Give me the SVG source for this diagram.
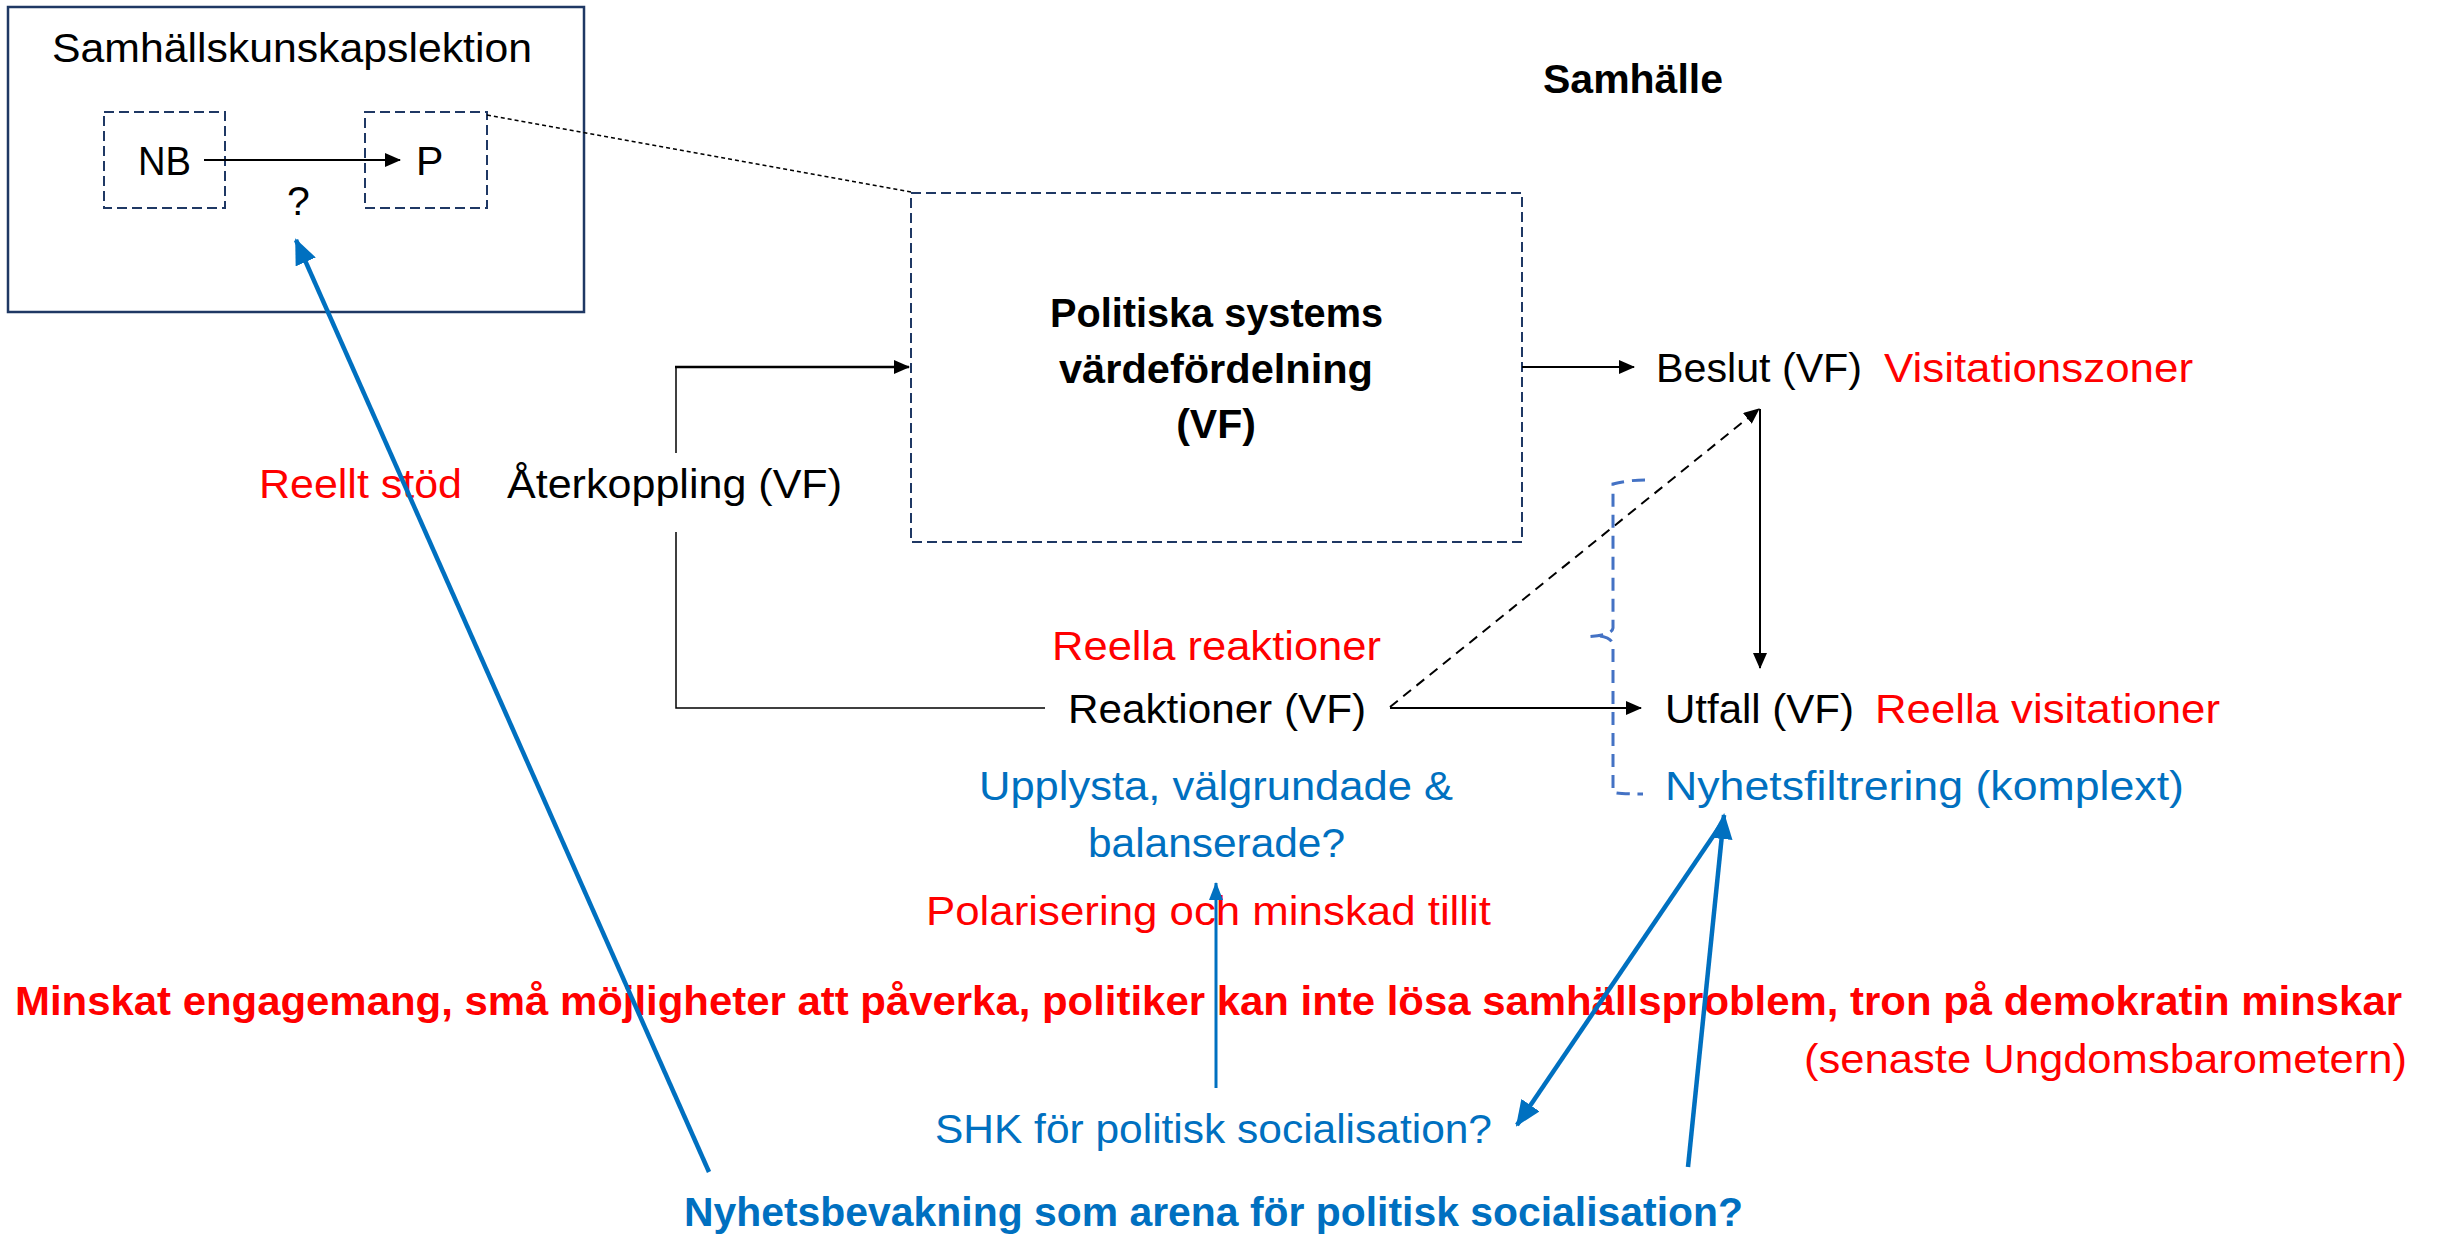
<svg xmlns="http://www.w3.org/2000/svg" width="2438" height="1236" viewBox="0 0 2438 1236">
<style>
text{font-family:"Liberation Sans",Arial,sans-serif;font-size:41px;fill:#000}
.b{font-weight:bold}
.red{fill:#FF0000}
.blue{fill:#0070C0}
.navy{fill:none;stroke:#1F3864}
.ln{fill:none;stroke:#000;stroke-width:2}
.thin{fill:none;stroke:#000;stroke-width:1.5}
.bl{fill:none;stroke:#0070C0;stroke-width:4.5}
</style>
<defs>
<marker id="ab" markerUnits="userSpaceOnUse" markerWidth="16" markerHeight="14" refX="15" refY="7" orient="auto"><path d="M0,0 L16,7 L0,14 z" fill="#000"/></marker>
<marker id="abl" markerUnits="userSpaceOnUse" markerWidth="26" markerHeight="22" refX="24" refY="11" orient="auto"><path d="M0,0 L26,11 L0,22 z" fill="#0070C0"/></marker>
<marker id="abls" markerUnits="userSpaceOnUse" markerWidth="18" markerHeight="14" refX="17" refY="7" orient="auto"><path d="M0,0 L18,7 L0,14 z" fill="#0070C0"/></marker>
</defs>
<rect width="2438" height="1236" fill="#fff"/>

<g id="lesson">
<rect class="navy" x="8" y="7" width="576" height="305" stroke-width="2.5"/>
<text x="52" y="62" font-size="43" textLength="480" lengthAdjust="spacingAndGlyphs">Samhällskunskapslektion</text>
</g>
<g id="nb">
<rect class="navy" x="104" y="112" width="121" height="96" stroke-width="2" stroke-dasharray="10,5"/>
<text x="138" y="175" textLength="53" lengthAdjust="spacingAndGlyphs">NB</text>
</g>
<g id="p">
<rect class="navy" x="365" y="112" width="122" height="96" stroke-width="2" stroke-dasharray="10,5"/>
<text x="416" y="175">P</text>
</g>
<g id="question"><text x="287" y="215">?</text></g>
<g id="samhalle"><text class="b" x="1543" y="93" font-size="42" textLength="180" lengthAdjust="spacingAndGlyphs">Samhälle</text></g>
<g id="politics">
<rect class="navy" x="911" y="193" width="611" height="349" stroke-width="2" stroke-dasharray="10,5"/>
<text class="b" x="1050" y="327" font-size="43" textLength="333" lengthAdjust="spacingAndGlyphs">Politiska systems</text>
<text class="b" x="1059" y="383" font-size="43" textLength="314" lengthAdjust="spacingAndGlyphs">värdefördelning</text>
<text class="b" x="1216" y="438" font-size="43" text-anchor="middle">(VF)</text>
</g>
<g id="beslut">
<text x="1656" y="382" textLength="206" lengthAdjust="spacingAndGlyphs">Beslut (VF)</text>
<text class="red" x="1884" y="382" textLength="309" lengthAdjust="spacingAndGlyphs">Visitationszoner</text>
</g>
<g id="aterkoppling">
<text class="red" x="259" y="498" textLength="203" lengthAdjust="spacingAndGlyphs">Reellt stöd</text>
<text x="507" y="498" textLength="335" lengthAdjust="spacingAndGlyphs">Återkoppling (VF)</text>
</g>
<g id="reaktioner">
<text class="red" x="1052" y="660" textLength="329" lengthAdjust="spacingAndGlyphs">Reella reaktioner</text>
<text x="1068" y="723" textLength="298" lengthAdjust="spacingAndGlyphs">Reaktioner (VF)</text>
<text class="blue" x="979" y="800" textLength="474" lengthAdjust="spacingAndGlyphs">Upplysta, välgrundade &amp;</text>
<text class="blue" x="1088" y="857" textLength="257" lengthAdjust="spacingAndGlyphs">balanserade?</text>
</g>
<g id="utfall">
<text x="1665" y="723" textLength="189" lengthAdjust="spacingAndGlyphs">Utfall (VF)</text>
<text class="red" x="1875" y="723" textLength="345" lengthAdjust="spacingAndGlyphs">Reella visitationer</text>
<text class="blue" x="1665" y="800" textLength="519" lengthAdjust="spacingAndGlyphs">Nyhetsfiltrering (komplext)</text>
</g>
<g id="polarisering"><text class="red" x="926" y="925" textLength="565" lengthAdjust="spacingAndGlyphs">Polarisering och minskad tillit</text></g>
<g id="minskat">
<text class="red b" x="15" y="1015" font-size="42" textLength="2387" lengthAdjust="spacingAndGlyphs">Minskat engagemang, små möjligheter att påverka, politiker kan inte lösa samhällsproblem, tron på demokratin minskar</text>
<text class="red" x="1804" y="1073" textLength="603" lengthAdjust="spacingAndGlyphs">(senaste Ungdomsbarometern)</text>
</g>
<g id="shk"><text class="blue" x="935" y="1143" textLength="557" lengthAdjust="spacingAndGlyphs">SHK för politisk socialisation?</text></g>
<g id="nyhetsbevakning"><text class="blue b" x="684" y="1226" font-size="42" textLength="1059" lengthAdjust="spacingAndGlyphs">Nyhetsbevakning som arena för politisk socialisation?</text></g>

<g id="connectors">
<line class="ln" x1="204" y1="160" x2="400" y2="160" marker-end="url(#ab)"/>
<line x1="487" y1="115" x2="911" y2="192" stroke="#000" stroke-width="1.5" stroke-dasharray="4,3"/>
<line class="ln" x1="1522" y1="367" x2="1634" y2="367" marker-end="url(#ab)"/>
<path class="thin" d="M1045,708 L676,708 L676,532"/>
<line class="thin" x1="676" y1="453" x2="676" y2="367"/>
<line x1="675" y1="367" x2="909" y2="367" stroke="#000" stroke-width="2.5" marker-end="url(#ab)"/>
<line class="ln" x1="1390" y1="708" x2="1641" y2="708" marker-end="url(#ab)"/>
<line class="ln" x1="1390" y1="707" x2="1759" y2="409" stroke-dasharray="10,7" marker-end="url(#ab)"/>
<line class="ln" x1="1760" y1="409" x2="1760" y2="668" marker-end="url(#ab)"/>
<path d="M1645,480 Q1628,480 1613,484 L1613,628 Q1612,636 1583,637 M1600,636 Q1613,638 1613,646 L1613,792 Q1614,794 1643,794" fill="none" stroke="#4472C4" stroke-width="3" stroke-dasharray="13,8"/>
<line class="bl" x1="709" y1="1172" x2="296" y2="240" marker-end="url(#abl)"/>
<line x1="1216" y1="1088" x2="1216" y2="883" stroke="#0070C0" stroke-width="3" marker-end="url(#abls)"/>
<line class="bl" x1="1688" y1="1167" x2="1724" y2="815" marker-end="url(#abl)"/>
<line class="bl" x1="1720" y1="826" x2="1517" y2="1125" marker-end="url(#abl)"/>
</g>
</svg>
